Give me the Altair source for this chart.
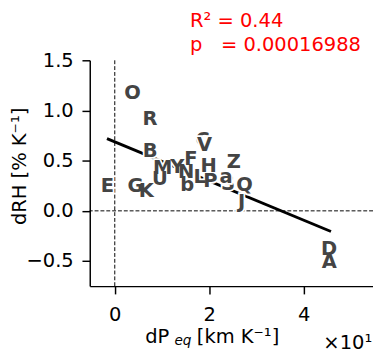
import altair as alt
import pandas as pd

# ---- data ----
labels = ["O", "R", "B", "C", "V", "F", "H", "Z", "M", "Y", "N", "U", "L", "b",
          "P", "S", "a", "Q", "J", "E", "G", "K", "D", "A"]
dp_eq = [0.377, 0.748, 0.748, 1.862, 1.903, 1.614, 1.986, 2.522, 1.016, 1.326,
         1.511, 0.955, 1.800, 1.532, 2.027, 2.398, 2.357, 2.748, 2.687, -0.159,
         0.439, 0.666, 4.542, 4.542]
drh = [1.170, 0.917, 0.597, 0.704, 0.655, 0.519, 0.442, 0.481, 0.422, 0.432,
       0.383, 0.316, 0.335, 0.257, 0.296, 0.267, 0.335, 0.257, 0.083, 0.248,
       0.248, 0.199, -0.384, -0.510]
# letters that are drawn first (partly hidden by later ones)
back_labels = ["C", "S"]

fit_dp = [-0.165, 4.58]
fit_drh = [0.72, -0.206]

x_ticks = [0, 2, 4]
y_ticks = [-0.5, 0.0, 0.5, 1.0, 1.5]

stats_text = ["R\u00b2 = 0.44", "p\u00a0\u00a0\u00a0= 0.00016988"]
ylabel_text = ["dRH [% K\u207b\u00b9]"]
xlabel_main = ["dP"]
xlabel_sub = ["eq"]
xlabel_rest = ["[km K\u207b\u00b9]"]
offset_text = ["\u00d710\u00b9"]

FONT = "DejaVu Sans"

xscale = alt.Scale(domain=[-0.53, 5.47], nice=False, zero=False)
yscale = alt.Scale(domain=[-0.75, 1.5], nice=False, zero=False)

axis_x = alt.Axis(values=x_ticks, format="d", title=None, grid=False,
                  domainColor="black", domainWidth=1.5, tickColor="black",
                  tickWidth=1.5, tickSize=8, labelFontSize=20, labelFont=FONT,
                  labelColor="black", labelPadding=11)
axis_y = alt.Axis(values=y_ticks, title=None, grid=False,
                  labelExpr="replace(format(datum.value, '.1f'), '-', '\u2212')",
                  domainColor="black", domainWidth=1.5, tickColor="black",
                  tickWidth=1.5, tickSize=8, labelFontSize=20, labelFont=FONT,
                  labelColor="black", labelPadding=9)

X = alt.X("dp:Q", scale=xscale, axis=axis_x)
Y = alt.Y("drh:Q", scale=yscale, axis=axis_y)

df = pd.DataFrame({"label": labels, "dp": dp_eq, "drh": drh})
df["back"] = df["label"].isin(back_labels)
fit = pd.DataFrame({"dp": fit_dp, "drh": fit_drh})

vrule = alt.Chart(pd.DataFrame({"dp": [0.0]})).mark_rule(
    color="black", strokeWidth=1, strokeDash=[4, 2]
).encode(x=X)

hrule = alt.Chart(pd.DataFrame({"drh": [0.0]})).mark_rule(
    color="black", strokeWidth=1, strokeDash=[4, 2]
).encode(y=Y)

line = alt.Chart(fit).mark_line(color="black", strokeWidth=3).encode(x=X, y=Y)


def letter_layers(flt):
    base = alt.Chart(df).transform_filter(flt)
    halo = base.mark_text(
        font=FONT, fontSize=20, fontWeight="bold", align="center",
        baseline="middle", fill="white", stroke="white", strokeWidth=3.5
    ).encode(x=X, y=Y, text="label:N")
    fill = base.mark_text(
        font=FONT, fontSize=20, fontWeight="bold", align="center",
        baseline="middle", color="#444444"
    ).encode(x=X, y=Y, text="label:N")
    return [halo, fill]


def note(texts, x, y, size=20, color="black", style="normal", angle=0,
         align="left"):
    d = pd.DataFrame({"t": texts})
    return alt.Chart(d).mark_text(
        font=FONT, fontSize=size, color=color, fontStyle=style, angle=angle,
        align=align, baseline="middle"
    ).encode(
        x=alt.value(x),
        y=alt.value(y),
        text="t:N",
    )


stats1 = note([stats_text[0]], 103, -40, color="red")
stats2 = note([stats_text[1]], 103, -16, color="red")
ylab = note(ylabel_text, -72, 109, angle=270, align="center")
xl1 = note(xlabel_main, 57, 284)
xl2 = note(xlabel_sub, 87, 289, size=14, style="italic")
xl3 = note(xlabel_rest, 110, 284)
off = note(offset_text, 240, 291)

layers = [vrule, hrule, line]
layers += letter_layers("datum.back")
layers += letter_layers("!datum.back")
layers += [stats1, stats2, ylab, xl1, xl2, xl3, off]

chart = alt.layer(*layers).properties(
    width=291, height=232,
    padding={"left": 84, "top": 49, "right": 0, "bottom": 65},
    autosize="none",
).configure_view(stroke=None)

chart.save("out.html", embed_options={"renderer": "svg", "actions": False})
